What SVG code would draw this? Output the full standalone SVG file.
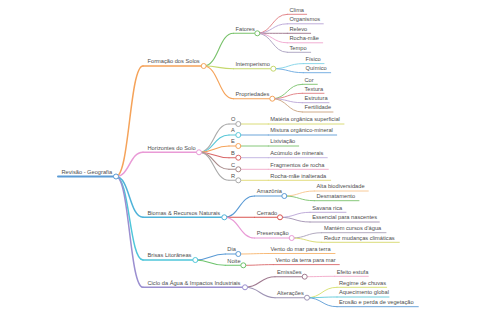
<svg xmlns="http://www.w3.org/2000/svg" width="480" height="320" viewBox="0 0 480 320">
<style>
text{font-family:"Liberation Sans",Arial,sans-serif;font-size:5.7px;fill:#4d4d4d}
path{fill:none;stroke-linecap:round}
.l0{stroke-width:2}
.l1{stroke-width:1.5}
.l2{stroke-width:1.1}
.l3{stroke-width:0.9}
circle{fill:#fff;stroke-width:1}
</style>
<rect width="480" height="320" fill="#fff"/>
<g id="connectors">
<path class="l1" stroke="#f5a35a" d="M116,176.5 C129.5,176.5 129.5,66 143,66"/>
<path class="l1" stroke="#e99ad6" d="M116,176.5 C129.5,176.5 129.5,152.3 143,152.3"/>
<path class="l1" stroke="#4fb3d9" d="M116,176.5 C129.5,176.5 129.5,217.3 143,217.3"/>
<path class="l1" stroke="#4fc6da" d="M116,176.5 C129.5,176.5 129.5,260 143,260"/>
<path class="l1" stroke="#9b8fd0" d="M116,176.5 C129.5,176.5 129.5,287.3 143,287.3"/>
<path class="l2" stroke="#79c26b" d="M203.7,66 C218.6,66 218.6,33.3 233.5,33.3"/>
<path class="l2" stroke="#c5d86d" d="M203.7,66 C218.6,66 218.6,68.7 233.5,68.7"/>
<path class="l2" stroke="#f5a35a" d="M203.7,66 C218.6,66 218.6,98.7 233.5,98.7"/>
<path class="l3" stroke="#e07a7f" d="M257.3,33.3 C272.3,33.3 272.3,14.3 287.3,14.3"/>
<path class="l3" stroke="#b9a4d6" d="M257.3,33.3 C272.3,33.3 272.3,23.8 287.3,23.8"/>
<path class="l3" stroke="#9a7088" d="M257.3,33.3 C272.3,33.3 272.3,33.3 287.3,33.3"/>
<path class="l3" stroke="#f0a6cf" d="M257.3,33.3 C272.3,33.3 272.3,42.8 287.3,42.8"/>
<path class="l3" stroke="#a9a0c0" d="M257.3,33.3 C272.3,33.3 272.3,52.3 287.3,52.3"/>
<path class="l3" stroke="#7fd3e8" d="M273.3,68.7 C288.3,68.7 288.3,63.6 303.3,63.6"/>
<path class="l3" stroke="#6aa8e0" d="M273.3,68.7 C288.3,68.7 288.3,72.7 303.3,72.7"/>
<path class="l3" stroke="#79c26b" d="M272.3,98.7 C287.3,98.7 287.3,84.3 302.3,84.3"/>
<path class="l3" stroke="#e07a7f" d="M272.3,98.7 C287.3,98.7 287.3,93.3 302.3,93.3"/>
<path class="l3" stroke="#b9a4d6" d="M272.3,98.7 C287.3,98.7 287.3,102.7 302.3,102.7"/>
<path class="l3" stroke="#c9a27e" d="M272.3,98.7 C287.3,98.7 287.3,112 302.3,112"/>
<path class="l2" stroke="#aaaaaa" d="M199,152.3 C214,152.3 214,124 229,124"/>
<path class="l2" stroke="#5bc8d8" d="M199,152.3 C214,152.3 214,135 229,135"/>
<path class="l2" stroke="#f5a35a" d="M199,152.3 C214,152.3 214,146 229,146"/>
<path class="l2" stroke="#d9686a" d="M199,152.3 C214,152.3 214,157.7 229,157.7"/>
<path class="l2" stroke="#a88a8a" d="M199,152.3 C214,152.3 214,169.3 229,169.3"/>
<path class="l2" stroke="#aaaaaa" d="M199,152.3 C214,152.3 214,180.3 229,180.3"/>
<path class="l3" stroke="#d6d86a" d="M238.3,124 H268.3"/>
<path class="l3" stroke="#5b9bd5" d="M238.3,135 H268.3"/>
<path class="l3" stroke="#79c26b" d="M238.3,146 H268.3"/>
<path class="l3" stroke="#c0b0e0" d="M238.3,157.7 H268.3"/>
<path class="l3" stroke="#f2a7c7" d="M238.3,169.3 H268.3"/>
<path class="l3" stroke="#e0d870" d="M238.3,180.3 H268.3"/>
<path class="l2" stroke="#5b9bd5" d="M224.3,217.3 C239.4,217.3 239.4,196 254.5,196"/>
<path class="l2" stroke="#d9534f" d="M224.3,217.3 C239.4,217.3 239.4,217.3 254.5,217.3"/>
<path class="l2" stroke="#e99ad6" d="M224.3,217.3 C239.4,217.3 239.4,238 254.5,238"/>
<path class="l3" stroke="#f7c48c" d="M284.3,196 C299.3,196 299.3,191 314.3,191"/>
<path class="l3" stroke="#79c26b" d="M284.3,196 C299.3,196 299.3,200.7 314.3,200.7"/>
<path class="l3" stroke="#b9a4d6" d="M280,217.3 C295,217.3 295,212.3 310,212.3"/>
<path class="l3" stroke="#a090b0" d="M280,217.3 C295,217.3 295,222 310,222"/>
<path class="l3" stroke="#a9a0b8" d="M291.7,238 C306.7,238 306.7,232.7 321.7,232.7"/>
<path class="l3" stroke="#d6d86a" d="M291.7,238 C306.7,238 306.7,242.3 321.7,242.3"/>
<path class="l2" stroke="#5b9bd5" d="M195.3,260 C210.3,260 210.3,254 225.3,254"/>
<path class="l2" stroke="#6cc36c" d="M195.3,260 C210.3,260 210.3,265.3 225.3,265.3"/>
<path class="l3" stroke="#f7b46c" d="M238.3,254 C253.3,254 253.3,253.5 268.3,253.5"/>
<path class="l3" stroke="#d9686a" d="M243.3,265.3 C258.3,265.3 258.3,264.6 273.3,264.6"/>
<path class="l2" stroke="#a07a90" d="M245,287.3 C260,287.3 260,276.7 275,276.7"/>
<path class="l2" stroke="#9f95b5" d="M245,287.3 C260,287.3 260,297.7 275,297.7"/>
<path class="l3" stroke="#f2a7c7" d="M304.7,276.7 C319.7,276.7 319.7,276.3 334.7,276.3"/>
<path class="l3" stroke="#d6e06a" d="M307,297.7 C322,297.7 322,287.3 337,287.3"/>
<path class="l3" stroke="#5bc8d8" d="M307,297.7 C322,297.7 322,297 337,297"/>
<path class="l3" stroke="#5b9bd5" d="M307,297.7 C322,297.7 322,306.7 337,306.7"/>
</g>
<g id="root"><path class="l0" stroke="#5b9bd5" d="M58,176.5 H116"/><text x="61.5" y="173.7">Revisão - Geografia</text><circle cx="116" cy="176.5" r="2.5" stroke="#5b9bd5"/></g>
<g id="formacao"><path class="l1" stroke="#f5a35a" d="M143,66 H203.7"/><text x="147.5" y="63.2">Formação dos Solos</text><circle cx="203.7" cy="66" r="2.5" stroke="#f5a35a"/></g>
<g id="fatores"><path class="l2" stroke="#79c26b" d="M233.5,33.3 H257.3"/><text x="235.5" y="30.5">Fatores</text><circle cx="257.3" cy="33.3" r="2.5" stroke="#79c26b"/></g>
<g id="clima"><path class="l3" stroke="#e07a7f" d="M287.3,14.3 H306.7"/><text x="289.5" y="11.5">Clima</text></g>
<g id="organismos"><path class="l3" stroke="#b9a4d6" d="M287.3,23.8 H323.3"/><text x="289.5" y="21">Organismos</text></g>
<g id="relevo"><path class="l3" stroke="#9a7088" d="M287.3,33.3 H310.7"/><text x="289.5" y="30.5">Relevo</text></g>
<g id="rocha-mae"><path class="l3" stroke="#f0a6cf" d="M287.3,42.8 H322.7"/><text x="289.5" y="40">Rocha-mãe</text></g>
<g id="tempo"><path class="l3" stroke="#a9a0c0" d="M287.3,52.3 H310.7"/><text x="289.5" y="49.5">Tempo</text></g>
<g id="intemperismo"><path class="l2" stroke="#c5d86d" d="M233.5,68.7 H273.3"/><text x="235.5" y="65.9">Intemperismo</text><circle cx="273.3" cy="68.7" r="2.5" stroke="#c5d86d"/></g>
<g id="fisico"><path class="l3" stroke="#7fd3e8" d="M303.3,63.6 H324"/><text x="305.5" y="60.8">Físico</text></g>
<g id="quimico"><path class="l3" stroke="#6aa8e0" d="M303.3,72.7 H330.7"/><text x="305.5" y="69.9">Químico</text></g>
<g id="propriedades"><path class="l2" stroke="#f5a35a" d="M233.5,98.7 H272.3"/><text x="235.5" y="95.9">Propriedades</text><circle cx="272.3" cy="98.7" r="2.5" stroke="#f5a35a"/></g>
<g id="cor"><path class="l3" stroke="#79c26b" d="M302.3,84.3 H317.3"/><text x="304.5" y="81.5">Cor</text></g>
<g id="textura"><path class="l3" stroke="#e07a7f" d="M302.3,93.3 H324"/><text x="304.5" y="90.5">Textura</text></g>
<g id="estrutura"><path class="l3" stroke="#b9a4d6" d="M302.3,102.7 H329"/><text x="304.5" y="99.9">Estrutura</text></g>
<g id="fertilidade"><path class="l3" stroke="#c9a27e" d="M302.3,112 H333"/><text x="304.5" y="109.2">Fertilidade</text></g>
<g id="horizontes"><path class="l1" stroke="#e99ad6" d="M143,152.3 H199"/><text x="147.5" y="149.5">Horizontes do Solo</text><circle cx="199" cy="152.3" r="2.5" stroke="#e99ad6"/></g>
<g id="h-o"><path class="l2" stroke="#aaaaaa" d="M229,124 H238.3"/><text x="231" y="121.2">O</text><circle cx="238.3" cy="124" r="2.5" stroke="#aaaaaa"/></g>
<g id="h-a"><path class="l2" stroke="#5bc8d8" d="M229,135 H238.3"/><text x="231" y="132.2">A</text><circle cx="238.3" cy="135" r="2.5" stroke="#5bc8d8"/></g>
<g id="h-e"><path class="l2" stroke="#f5a35a" d="M229,146 H238.3"/><text x="231" y="143.2">E</text><circle cx="238.3" cy="146" r="2.5" stroke="#f5a35a"/></g>
<g id="h-b"><path class="l2" stroke="#d9686a" d="M229,157.7 H238.3"/><text x="231" y="154.9">B</text><circle cx="238.3" cy="157.7" r="2.5" stroke="#d9686a"/></g>
<g id="h-c"><path class="l2" stroke="#a88a8a" d="M229,169.3 H238.3"/><text x="231" y="166.5">C</text><circle cx="238.3" cy="169.3" r="2.5" stroke="#a88a8a"/></g>
<g id="h-r"><path class="l2" stroke="#aaaaaa" d="M229,180.3 H238.3"/><text x="231" y="177.5">R</text><circle cx="238.3" cy="180.3" r="2.5" stroke="#aaaaaa"/></g>
<g id="materia"><path class="l3" stroke="#d6d86a" d="M268.3,124 H344"/><text x="270.3" y="121.2">Matéria orgânica superficial</text></g>
<g id="mistura"><path class="l3" stroke="#5b9bd5" d="M268.3,135 H336.7"/><text x="270.3" y="132.2">Mistura orgânico-mineral</text></g>
<g id="lixiviacao"><path class="l3" stroke="#79c26b" d="M268.3,146 H298.7"/><text x="270.3" y="143.2">Lixiviação</text></g>
<g id="acumulo"><path class="l3" stroke="#c0b0e0" d="M268.3,157.7 H327.3"/><text x="270.3" y="154.9">Acúmulo de minerais</text></g>
<g id="fragmentos"><path class="l3" stroke="#f2a7c7" d="M268.3,169.3 H328.3"/><text x="270.3" y="166.5">Fragmentos de rocha</text></g>
<g id="inalterada"><path class="l3" stroke="#e0d870" d="M268.3,180.3 H330.7"/><text x="270.3" y="177.5">Rocha-mãe inalterada</text></g>
<g id="biomas"><path class="l1" stroke="#4fb3d9" d="M143,217.3 H224.3"/><text x="147.5" y="214.5">Biomas &amp; Recursos Naturais</text><circle cx="224.3" cy="217.3" r="2.5" stroke="#4fb3d9"/></g>
<g id="amazonia"><path class="l2" stroke="#5b9bd5" d="M254.5,196 H284.3"/><text x="256.7" y="193.2">Amazônia</text><circle cx="284.3" cy="196" r="2.5" stroke="#5b9bd5"/></g>
<g id="alta"><path class="l3" stroke="#f7c48c" d="M314.3,191 H368.3"/><text x="316.5" y="188.2">Alta biodiversidade</text></g>
<g id="desmatamento"><path class="l3" stroke="#79c26b" d="M314.3,200.7 H359"/><text x="316.5" y="197.9">Desmatamento</text></g>
<g id="cerrado"><path class="l2" stroke="#d9534f" d="M254.5,217.3 H280"/><text x="256.7" y="214.5">Cerrado</text><circle cx="280" cy="217.3" r="2.5" stroke="#d9534f"/></g>
<g id="savana"><path class="l3" stroke="#b9a4d6" d="M310,212.3 H346"/><text x="312.2" y="209.5">Savana rica</text></g>
<g id="essencial"><path class="l3" stroke="#a090b0" d="M310,222 H379.3"/><text x="312.2" y="219.2">Essencial para nascentes</text></g>
<g id="preservacao"><path class="l2" stroke="#e99ad6" d="M254.5,238 H291.7"/><text x="256.7" y="235.2">Preservação</text><circle cx="291.7" cy="238" r="2.5" stroke="#e99ad6"/></g>
<g id="mantem"><path class="l3" stroke="#a9a0b8" d="M321.7,232.7 H386"/><text x="323.9" y="229.9">Mantém cursos d'água</text></g>
<g id="reduz"><path class="l3" stroke="#d6d86a" d="M321.7,242.3 H399.3"/><text x="323.9" y="239.5">Reduz mudanças climáticas</text></g>
<g id="brisas"><path class="l1" stroke="#4fc6da" d="M143,260 H195.3"/><text x="147.5" y="257.2">Brisas Litorâneas</text><circle cx="195.3" cy="260" r="2.5" stroke="#4fc6da"/></g>
<g id="dia"><path class="l2" stroke="#5b9bd5" d="M225.3,254 H238.3"/><text x="227.3" y="251.2">Dia</text><circle cx="238.3" cy="254" r="2.5" stroke="#5b9bd5"/></g>
<g id="vento-mar"><path class="l3" stroke="#f7b46c" d="M268.3,253.5 H335"/><text x="270.5" y="250.7">Vento do mar para terra</text></g>
<g id="noite"><path class="l2" stroke="#6cc36c" d="M225.3,265.3 H243.3"/><text x="227.3" y="262.5">Noite</text><circle cx="243.3" cy="265.3" r="2.5" stroke="#6cc36c"/></g>
<g id="vento-terra"><path class="l3" stroke="#d9686a" d="M273.3,264.6 H339.3"/><text x="275.5" y="261.8">Vento da terra para mar</text></g>
<g id="ciclo"><path class="l1" stroke="#9b8fd0" d="M143,287.3 H245"/><text x="147.5" y="284.5">Ciclo da Água &amp; Impactos Industriais</text><circle cx="245" cy="287.3" r="2.5" stroke="#9b8fd0"/></g>
<g id="emissoes"><path class="l2" stroke="#a07a90" d="M275,276.7 H304.7"/><text x="277" y="273.9">Emissões</text><circle cx="304.7" cy="276.7" r="2.5" stroke="#a07a90"/></g>
<g id="efeito"><path class="l3" stroke="#f2a7c7" d="M334.7,276.3 H368.3"/><text x="336.7" y="273.5">Efeito estufa</text></g>
<g id="alteracoes"><path class="l2" stroke="#9f95b5" d="M275,297.7 H307"/><text x="277" y="294.9">Alterações</text><circle cx="307" cy="297.7" r="2.5" stroke="#9f95b5"/></g>
<g id="regime"><path class="l3" stroke="#d6e06a" d="M337,287.3 H386.7"/><text x="339" y="284.5">Regime de chuvas</text></g>
<g id="aquecimento"><path class="l3" stroke="#5bc8d8" d="M337,297 H389"/><text x="339" y="294.2">Aquecimento global</text></g>
<g id="erosao"><path class="l3" stroke="#5b9bd5" d="M337,306.7 H418.3"/><text x="339" y="303.9">Erosão e perda de vegetação</text></g>
</svg>
